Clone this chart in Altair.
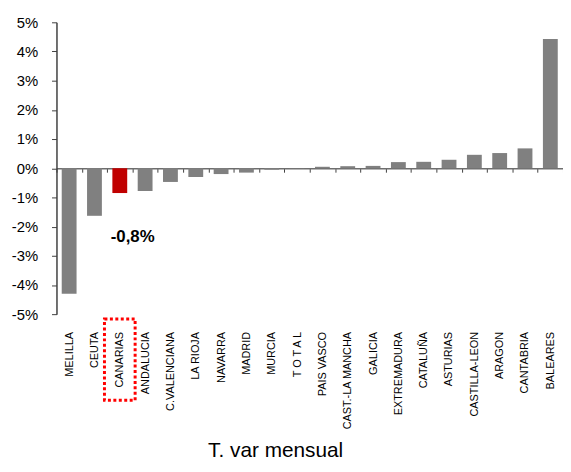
import altair as alt
import pandas as pd

regions = ["MELILLA", "CEUTA", "CANARIAS", "ANDALUCIA", "C.VALENCIANA", "LA RIOJA",
           "NAVARRA", "MADRID", "MURCIA", "T O T A L", "PAIS VASCO", "CAST.-LA MANCHA",
           "GALICIA", "EXTREMADURA", "CATALUÑA", "ASTURIAS", "CASTILLA-LEON", "ARAGON",
           "CANTABRIA", "BALEARES"]
values = [-4.3, -1.63, -0.85, -0.78, -0.47, -0.3, -0.2, -0.15, -0.05, -0.01,
          0.05, 0.07, 0.08, 0.21, 0.22, 0.29, 0.46, 0.52, 0.68, 4.43]
highlight = "CANARIAS"
annotation_text = "-0,8%"
annotation_y = -2.35
y_ticks = [-5, -4, -3, -2, -1, 0, 1, 2, 3, 4, 5]

df = pd.DataFrame({"region": regions, "value": values})
df["hl"] = df["region"] == highlight

FONT = "Liberation Sans"

x_axis = alt.Axis(
    title="T. var mensual", titleFont=FONT, titleFontSize=21, titleFontWeight="normal",
    titleColor="#000", titleX=221, titleY=291, titleBaseline="alphabetic",
    titleAnchor="start", titleAlign="center",
    labelAngle=-90, labelFont=FONT, labelFontSize=11, labelColor="#000",
    labelPadding=161, labelOverlap=False, labelLimit=300,
    offset=-147.5, domainColor="#6e6e6e", domainWidth=1.5,
    tickBand="extent", tickSize=4, tickColor="#404040", grid=False,
)
x_scale = alt.Scale(paddingInner=0, paddingOuter=0)

y_axis = alt.Axis(values=y_ticks, labelExpr="datum.value + '%'", title=None,
                  labelFont=FONT, labelFontSize=15, labelColor="#000",
                  labelOverlap=False, labelPadding=14, tickSize=5, tickCount=11,
                  tickColor="#404040", domainColor="#404040", domainWidth=1.5, grid=False)
y_scale = alt.Scale(domain=[-5, 5], nice=False)

bars = alt.Chart(df).mark_bar(size=15).encode(
    x=alt.X("region:N", sort=regions, scale=x_scale, axis=x_axis),
    y=alt.Y("value:Q", scale=y_scale, axis=y_axis),
    color=alt.condition(alt.datum.hl, alt.value("#C00000"), alt.value("#808080")),
)

ann_df = pd.DataFrame({"region": [highlight], "value": [annotation_y], "text": [annotation_text]})
ann = alt.Chart(ann_df).mark_text(font=FONT, fontSize=17, fontWeight="bold", color="#000",
                                  dx=13, baseline="middle").encode(
    x=alt.X("region:N", sort=regions, scale=x_scale, axis=x_axis),
    y=alt.Y("value:Q", scale=y_scale, axis=y_axis), text="text:N")

box_df = pd.DataFrame({"region": [highlight]})
box = alt.Chart(box_df).mark_bar(size=31, fill=None, fillOpacity=0, stroke="#FF0000",
                                 strokeWidth=3, strokeDash=[3, 2.5]).encode(
    x=alt.X("region:N", sort=regions, scale=x_scale, axis=x_axis),
    y=alt.value(300), y2=alt.value(382))

chart = alt.layer(bars, ann, box).properties(
    width=512, height=295, autosize="none",
    padding={"left": 49, "top": 12, "right": 0, "bottom": 149},
).configure_view(stroke=None).configure_axis(labelOverlap=False)

chart.save("out.html", embed_options={"renderer": "svg", "actions": False})
